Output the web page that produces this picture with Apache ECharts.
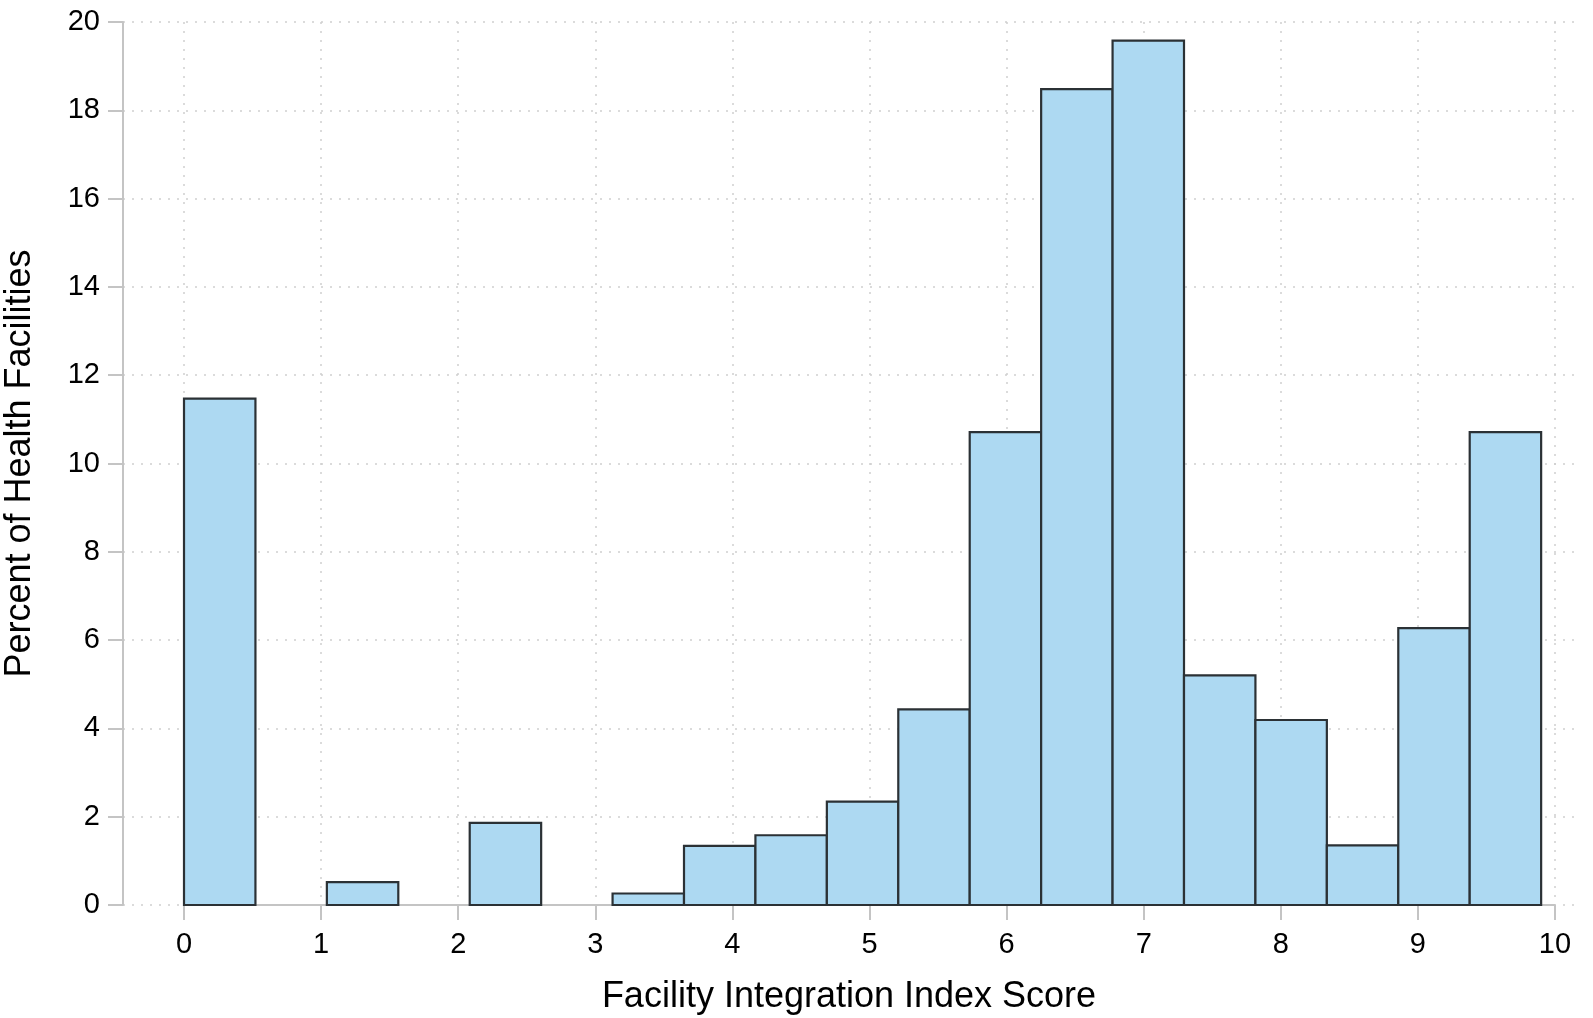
<!DOCTYPE html>
<html>
<head>
<meta charset="utf-8">
<title>Facility Integration Index Score</title>
<script src="https://cdn.jsdelivr.net/npm/echarts@6/dist/echarts.min.js"></script>
<style>
  html, body { margin: 0; padding: 0; background: #fff; }
  #chart { width: 1593px; height: 1018px; }
</style>
</head>
<body>
<div id="chart"></div>
<script>
// bin edges of the histogram (score units)
const binEdges = [0, 0.521, 1.042, 1.563, 2.084, 2.605, 3.126, 3.647, 4.168, 4.689,
  5.21, 5.731, 6.252, 6.773, 7.294, 7.815, 8.336, 8.857, 9.378, 9.899]
// percent of health facilities in each bin
const percents = [11.47, 0, 0.52, 0, 1.86, 0, 0.26, 1.34, 1.58, 2.34,
  4.43, 10.71, 18.48, 19.58, 5.2, 4.19, 1.35, 6.27, 10.71]
const xTicks = [0, 1, 2, 3, 4, 5, 6, 7, 8, 9, 10]

const fontFamily = '"Liberation Sans", Arial, Helvetica, sans-serif'
const axisGray = '#c4c4c4'

const bins = percents.map((p, i) => [binEdges[i], binEdges[i + 1], p])

const chart = echarts.init(document.getElementById('chart'))

chart.setOption({
  animation: false,
  grid: {
    left: 123,
    right: 18,
    top: 22,
    bottom: 113,
    outerBoundsMode: 'none'
  },
  xAxis: {
    type: 'value',
    min: -0.445,
    max: 10.146,
    name: 'Facility Integration Index Score',
    nameLocation: 'middle',
    nameGap: 74,
    nameTextStyle: { fontFamily, fontSize: 36, color: '#000' },
    axisLine: { show: false },
    axisTick: {
      show: true,
      customValues: xTicks,
      length: 15,
      lineStyle: { color: axisGray, width: 2 }
    },
    axisLabel: {
      customValues: xTicks,
      margin: 25,
      fontFamily,
      fontSize: 29,
      color: '#000'
    },
    splitLine: {
      show: true,
      lineStyle: { color: '#cfcfcf', width: 1.5, type: [2, 7] }
    }
  },
  yAxis: {
    type: 'value',
    min: 0,
    max: 20,
    interval: 2,
    name: 'Percent of Health Facilities',
    nameLocation: 'middle',
    nameGap: 85,
    nameRotate: 90,
    nameTextStyle: { fontFamily, fontSize: 36, color: '#000' },
    axisLine: { show: true, onZero: false, lineStyle: { color: axisGray, width: 2 } },
    axisTick: { show: true, length: 15, lineStyle: { color: axisGray, width: 2 } },
    axisLabel: {
      margin: 23,
      fontFamily,
      fontSize: 29,
      color: '#000'
    },
    splitLine: {
      show: true,
      lineStyle: { color: '#cfcfcf', width: 1.5, type: [2, 7] }
    }
  },
  series: [{
    // Stata style x axis line, only over the tick range
    type: 'line',
    data: [[xTicks[0], 0], [xTicks[xTicks.length - 1], 0]],
    symbol: 'none',
    silent: true,
    lineStyle: { color: axisGray, width: 2 },
    z: 1
  }, {
    type: 'custom',
    data: bins,
    encode: { x: [0, 1], y: 2 },
    renderItem(params, api) {
      if (api.value(2) <= 0) return null
      const p0 = api.coord([api.value(0), 0])
      const p1 = api.coord([api.value(1), api.value(2)])
      return {
        type: 'rect',
        shape: { x: p0[0], y: p1[1], width: p1[0] - p0[0], height: p0[1] - p1[1] },
        style: { fill: '#add9f2', stroke: '#2b3135', lineWidth: 2.2 }
      }
    },
    z: 3
  }]
})
</script>
</body>
</html>
